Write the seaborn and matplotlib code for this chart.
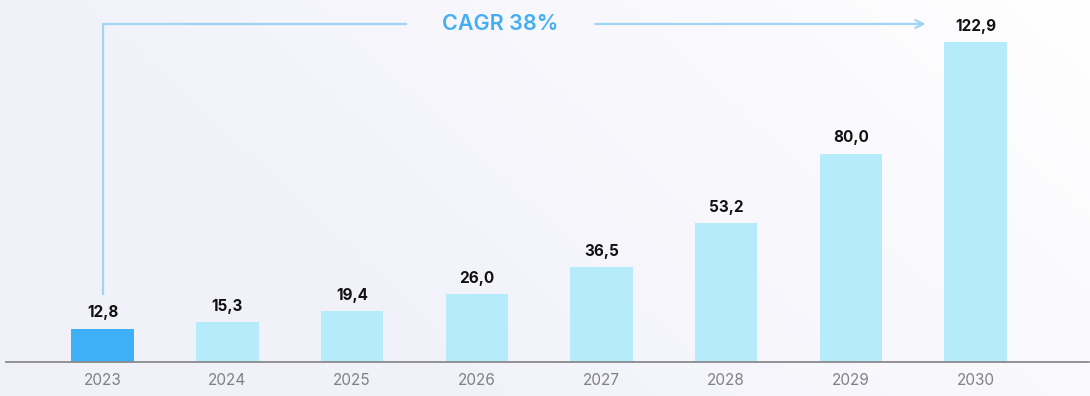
import numpy as np
import pandas as pd
import matplotlib
matplotlib.use('Agg')
import matplotlib.pyplot as plt
from matplotlib.colors import LinearSegmentedColormap
import seaborn as sns

years = ['2023', '2024', '2025', '2026', '2027', '2028', '2029', '2030']
values = [12.8, 15.3, 19.4, 26.0, 36.5, 53.2, 80.0, 122.9]
labels = ['12,8', '15,3', '19,4', '26,0', '36,5', '53,2', '80,0', '122,9']
cagr_text = 'CAGR 38%'

sns.set_theme(style='white')
plt.rcParams['font.family'] = ['Inter', 'DejaVu Sans']

fig = plt.figure(figsize=(10.9, 3.96), dpi=100)

# fond en dégradé léger
bg = fig.add_axes([0, 0, 1, 1], zorder=0)
gx, gy = np.meshgrid(np.linspace(0, 1, 300), np.linspace(0, 1, 100))
grad = np.clip(1 - 0.9 * gx + 0.35 * gy, 0, 1)
cmap = LinearSegmentedColormap.from_list('bg', ['#ffffff', '#f1f1fa'])
bg.imshow(grad, cmap=cmap, aspect='auto', extent=[0, 1, 0, 1], origin='upper')
bg.axis('off')

ax = fig.add_axes([6 / 1090, 34 / 396, 1083 / 1090, 362 / 396], zorder=1)
ax.patch.set_alpha(0)

df = pd.DataFrame({'year': years, 'value': values})
colors = ['#3db0f7'] + ['#b5ebfb'] * (len(years) - 1)
sns.barplot(data=df, x='year', y='value', hue='year', palette=colors,
            legend=False, width=0.5, saturation=1, linewidth=0,
            edgecolor='none', ax=ax)

for i, (v, lab) in enumerate(zip(values, labels)):
    ax.text(i, v + 3.2, lab, ha='center', va='bottom', fontsize=11,
            fontweight='bold', color='#111111')

ax.set_xlim(-0.775, 7.91)
ax.set_ylim(0, 139)
ax.set_xlabel('')
ax.set_ylabel('')
ax.set_yticks([])
ax.tick_params(axis='x', length=0, labelsize=11, labelcolor='#808086', pad=8)
for s in ['top', 'right', 'left']:
    ax.spines[s].set_visible(False)
ax.spines['bottom'].set_color('#8a8a8e')
ax.spines['bottom'].set_linewidth(1.3)

# accolade CAGR
lc = '#9fd4f2'
y_top = 129.8
ax.plot([0, 0], [values[0] + 13, y_top], color=lc, lw=1.6, solid_capstyle='butt')
ax.plot([0, 2.43], [y_top, y_top], color=lc, lw=1.6)
ax.text(3.19, y_top, cagr_text, ha='center', va='center', fontsize=15.5,
        color='#45aef0', fontweight='semibold')
ax.annotate('', xy=(6.6, y_top), xytext=(3.95, y_top),
            arrowprops=dict(arrowstyle='->', color=lc, lw=1.6,
                            mutation_scale=14, shrinkA=0, shrinkB=0))

fig.savefig('out.png', dpi=100)
